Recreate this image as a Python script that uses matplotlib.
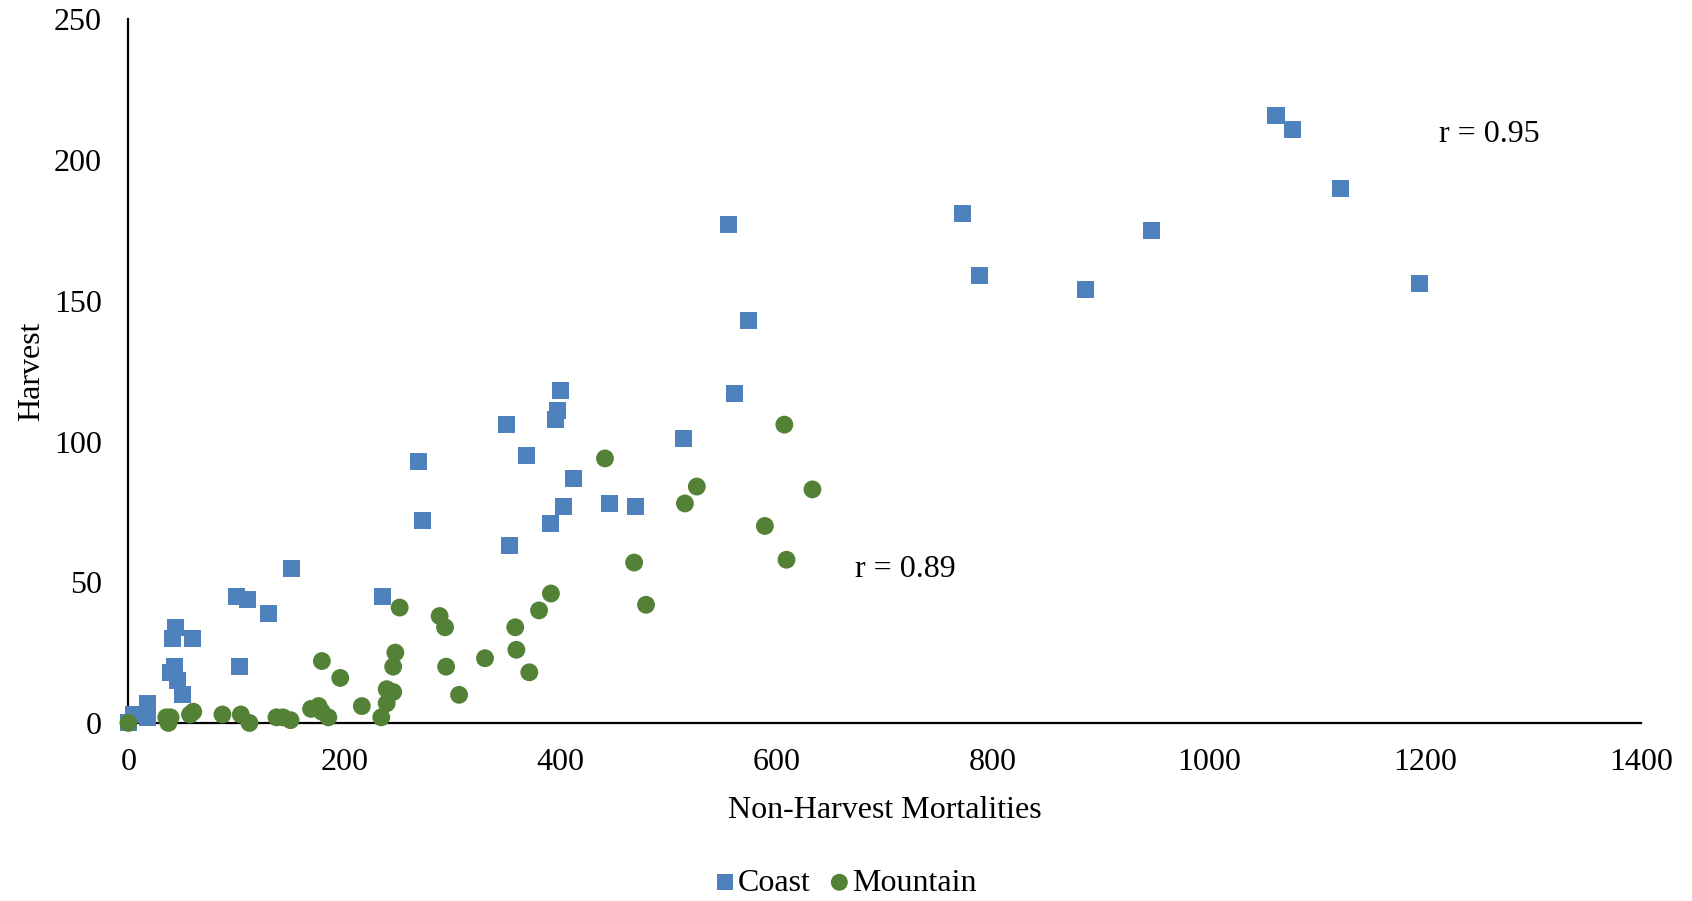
import matplotlib
matplotlib.use('Agg')
import matplotlib.pyplot as plt

plt.rcParams['font.family'] = ['Liberation Serif', 'DejaVu Serif']

# Coast: non-harvest mortalities vs harvest
coast_x = [0, 5, 18, 18, 39, 43, 45, 50, 41, 44, 59, 100, 103, 110, 130, 151,
           235, 268, 272, 350, 353, 368, 391, 395, 397, 400, 403, 412, 445, 469,
           514, 555, 561, 574, 772, 788, 886, 947, 1062, 1077, 1122, 1195]
coast_y = [0, 3, 7, 2, 18, 20, 15, 10, 30, 34, 30, 45, 20, 44, 39, 55,
           45, 93, 72, 106, 63, 95, 71, 108, 111, 118, 77, 87, 78, 77,
           101, 177, 117, 143, 181, 159, 154, 175, 216, 211, 190, 156]

# Mountain
mountain_x = [0, 35, 37, 39, 57, 60, 87, 104, 112, 137, 143, 150, 169, 176, 179,
              185, 179, 196, 216, 234, 239, 239, 245, 245, 247, 251, 288, 293,
              294, 306, 330, 358, 359, 371, 380, 391, 441, 468, 479, 515, 526,
              589, 607, 609, 633]
mountain_y = [0, 2, 0, 2, 3, 4, 3, 3, 0, 2, 2, 1, 5, 6, 4,
              2, 22, 16, 6, 2, 7, 12, 11, 20, 25, 41, 38, 34,
              20, 10, 23, 34, 26, 18, 40, 46, 94, 57, 42, 78, 84,
              70, 106, 58, 83]

coast_color = '#4F81BD'
mountain_color = '#538135'

fig = plt.figure(figsize=(16.92, 9.01), dpi=100)
ax = fig.add_axes([0.0759, 0.1976, 0.8941, 0.7809])

ax.scatter(coast_x, coast_y, marker='s', s=150, color=coast_color,
           edgecolors='none', label='Coast', zorder=3, clip_on=False)
ax.scatter(mountain_x, mountain_y, marker='o', s=165, color=mountain_color,
           edgecolors='none', label='Mountain', zorder=4, clip_on=False)

ax.set_xlim(0, 1400)
ax.set_ylim(0, 250)
ax.set_xticks(range(0, 1401, 200))
ax.set_yticks(range(0, 251, 50))
ax.tick_params(axis='both', length=0, labelsize=23)
ax.tick_params(axis='x', pad=18)
ax.tick_params(axis='y', pad=19)

for side in ['top', 'right']:
    ax.spines[side].set_visible(False)
for side in ['left', 'bottom']:
    ax.spines[side].set_linewidth(1.6)
    ax.spines[side].set_color('black')

ax.set_xlabel('Non-Harvest Mortalities', fontsize=23, labelpad=14)
ax.set_ylabel('Harvest', fontsize=23, labelpad=6)

ax.text(1213, 209, 'r = 0.95', fontsize=23, va='center', ha='left')
ax.text(672, 54.4, 'r = 0.89', fontsize=23, va='center', ha='left')

fig.legend(loc='center', bbox_to_anchor=(0.5, 0.02), ncol=2, frameon=False,
           fontsize=23, handletextpad=0.1, handlelength=0.6, columnspacing=0.6,
           markerscale=0.95, borderaxespad=0)

fig.savefig('out.png', dpi=100, facecolor='white')
